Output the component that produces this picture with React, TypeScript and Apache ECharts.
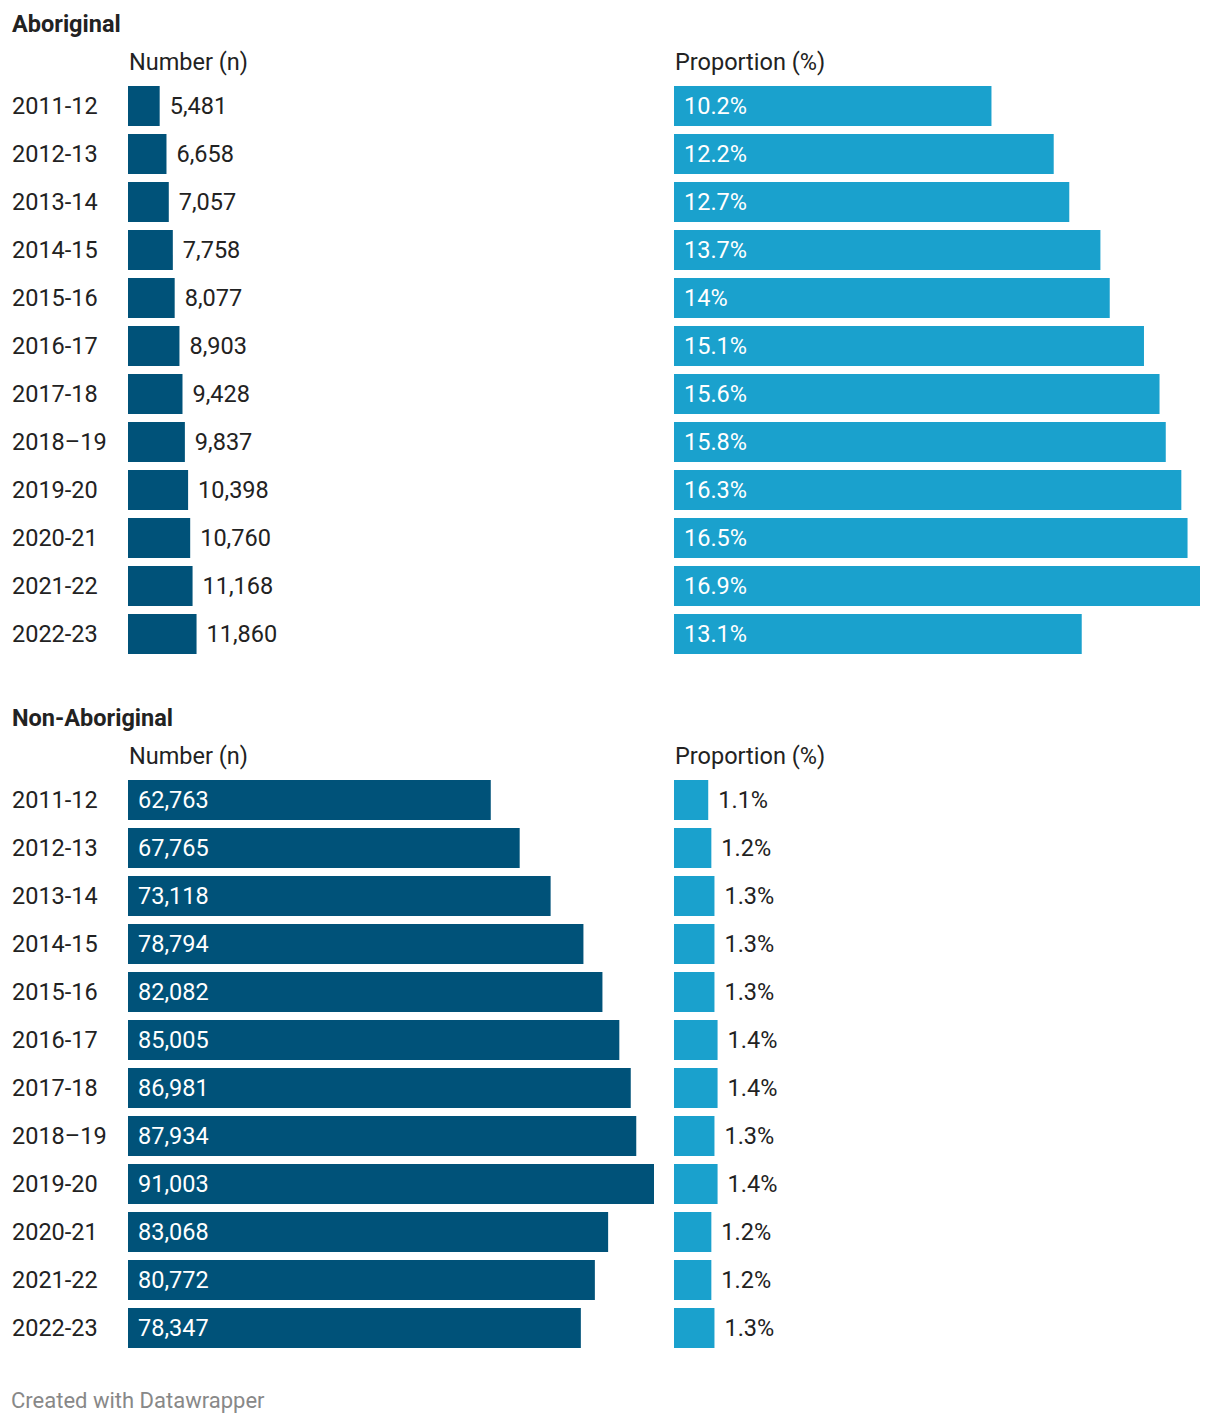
import React, { useEffect, useRef } from "react";
import * as echarts from "echarts";

const years = ["2011-12", "2012-13", "2013-14", "2014-15", "2015-16", "2016-17", "2017-18", "2018–19", "2019-20", "2020-21", "2021-22", "2022-23"];
const aboNumber = [5481, 6658, 7057, 7758, 8077, 8903, 9428, 9837, 10398, 10760, 11168, 11860];
const aboPct = [10.2, 12.2, 12.7, 13.7, 14, 15.1, 15.6, 15.8, 16.3, 16.5, 16.9, 13.1];
const nonNumber = [62763, 67765, 73118, 78794, 82082, 85005, 86981, 87934, 91003, 83068, 80772, 78347];
const nonPct = [1.1, 1.2, 1.3, 1.3, 1.3, 1.4, 1.4, 1.3, 1.4, 1.2, 1.2, 1.3];

const DARK = "#005279";
const LIGHT = "#1aa1cd";
const TEXT = "#222222";
const FONT = "Roboto";
const FS = 23.5;

const fmtNum = (v: number) => v.toLocaleString("en-US");
const fmtPct = (v: number) => `${v}%`;

export default function App() {
  const ref = useRef<HTMLDivElement>(null);
  useEffect(() => {
    document.body.style.margin = "0";
    const chart = echarts.init(ref.current!, null, { renderer: "svg" });
    const numMax = Math.max(...aboNumber, ...nonNumber);
    const pctMax = Math.max(...aboPct, ...nonPct);
    const grids = [
      { left: 128, top: 82, width: 526, height: 576 },
      { left: 674, top: 82, width: 526, height: 576 },
      { left: 128, top: 776, width: 526, height: 576 },
      { left: 674, top: 776, width: 526, height: 576 },
    ];
    const xAxis = grids.map((_, i) => ({
      type: "value",
      gridIndex: i,
      min: 0,
      max: i % 2 === 0 ? numMax : pctMax,
      show: false,
    }));
    const yAxis = grids.map((_, i) => ({
      type: "category",
      gridIndex: i,
      data: years,
      inverse: true,
      axisLine: { show: false },
      axisTick: { show: false },
      splitLine: { show: false },
      axisLabel: {
        show: i % 2 === 0,
        align: "left",
        margin: 116,
        fontFamily: FONT,
        fontSize: FS,
        color: TEXT,
      },
    }));
    const mk = (idx: number, data: number[], color: string, inside: boolean, fmt: (v: number) => string) => ({
      type: "bar",
      xAxisIndex: idx,
      yAxisIndex: idx,
      data,
      barWidth: 40,
      itemStyle: { color },
      label: {
        show: true,
        position: inside ? "insideLeft" : "right",
        distance: 10,
        color: inside ? "#ffffff" : TEXT,
        fontFamily: FONT,
        fontSize: FS,
        formatter: (p: any) => fmt(p.value),
      },
    });
    const txt = (x: number, yc: number, text: string, bold = false, color = TEXT, size = FS) => ({
      type: "text",
      x,
      y: yc,
      style: { text, fill: color, font: `${bold ? "bold " : ""}${size}px ${FONT}`, textVerticalAlign: "middle" },
    });
    chart.setOption({
      animation: false,
      grid: grids,
      xAxis,
      yAxis,
      series: [
        mk(0, aboNumber, DARK, false, fmtNum),
        mk(1, aboPct, LIGHT, true, fmtPct),
        mk(2, nonNumber, DARK, true, fmtNum),
        mk(3, nonPct, LIGHT, false, fmtPct),
      ],
      graphic: [
        txt(12, 24, "Aboriginal", true, TEXT, 23.5),
        txt(129, 62, "Number (n)"),
        txt(675, 62, "Proportion (%)"),
        txt(12, 718, "Non-Aboriginal", true, TEXT, 23.5),
        txt(129, 756, "Number (n)"),
        txt(675, 756, "Proportion (%)"),
        txt(11, 1400, "Created with Datawrapper", false, "#888888", 22),
      ],
    });
    return () => chart.dispose();
  }, []);
  return <div ref={ref} style={{ width: 1220, height: 1424 }} />;
}
